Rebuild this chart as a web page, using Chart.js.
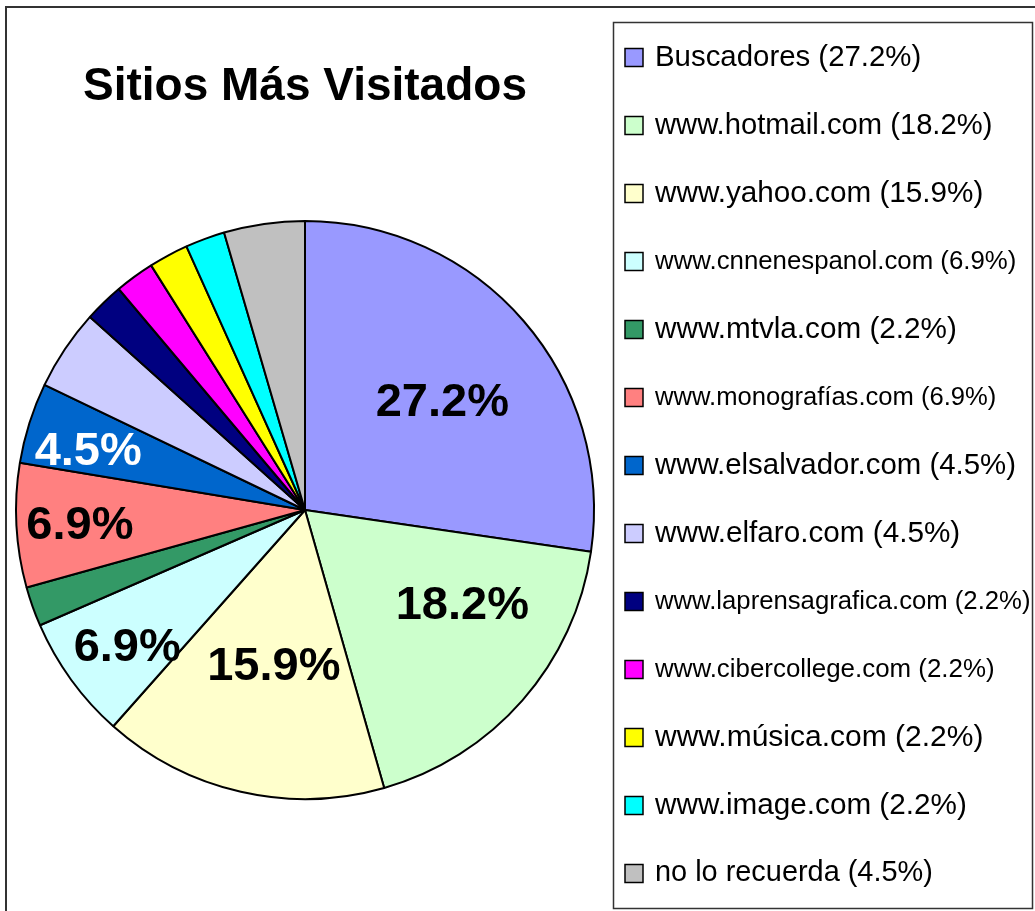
<!DOCTYPE html>
<html>
<head>
<meta charset="utf-8">
<script src="https://cdn.jsdelivr.net/npm/chart.js@4.4.1/dist/chart.umd.min.js"></script>
<style>
  html, body { margin: 0; padding: 0; background: #fff; }
</style>
</head>
<body>
<canvas id="grafico-sitios" width="1035" height="911"></canvas>
<script>
const categorias = [
    "Buscadores", "www.hotmail.com", "www.yahoo.com", "www.cnnenespanol.com",
    "www.mtvla.com", "www.monografías.com", "www.elsalvador.com", "www.elfaro.com",
    "www.laprensagrafica.com", "www.cibercollege.com", "www.música.com",
    "www.image.com", "no lo recuerda"
];
const porcentajes = [27.2, 18.2, 15.9, 6.9, 2.2, 6.9, 4.5, 4.5, 2.2, 2.2, 2.2, 2.2, 4.5];
const conEtiqueta = [true, true, true, true, false, true, true, false, false, false, false, false, false];

// estilos
const colores = [
    "#9999FF", "#CCFFCC", "#FFFFCC", "#CCFFFF", "#339966", "#FF8080", "#0066CC",
    "#CCCCFF", "#000080", "#FF00FF", "#FFFF00", "#00FFFF", "#C0C0C0"
];
const colorEtiqueta = ["#000", "#000", "#000", "#000", "#000", "#000", "#fff", "#000", "#000", "#000", "#000", "#000", "#000"];
// posicion de la etiqueta: fraccion del radio y desvio de angulo (grados)
const radioEtiqueta = [0.61, 0.63, 0.54, 0.77, 0.7, 0.78, 0.78, 0.7, 0.7, 0.7, 0.7, 0.7, 0.7];
const desvioEtiqueta = [2, -11, -1.3, -1, 0, 0, -1.6, 0, 0, 0, 0, 0, 0];
// ancho de cada texto de la leyenda en la imagen
const anchoLeyenda = [266, 338, 328, 361, 302, 342, 361, 305, 375, 340, 328, 312, 278];

const fuente = "'Liberation Sans', Arial, sans-serif";

const etiquetas = {
    id: "etiquetas",
    afterDatasetsDraw(chart) {
        const ctx = chart.ctx;
        const arcos = chart.getDatasetMeta(0).data;
        ctx.save();
        ctx.font = "bold 47px " + fuente;
        ctx.textAlign = "center";
        ctx.textBaseline = "middle";
        arcos.forEach(function(arco, i) {
            if (!conEtiqueta[i]) return;
            const a = (arco.startAngle + arco.endAngle) / 2 + desvioEtiqueta[i] * Math.PI / 180;
            const r = arco.outerRadius * radioEtiqueta[i];
            ctx.fillStyle = colorEtiqueta[i];
            ctx.fillText(porcentajes[i].toFixed(1) + "%", arco.x + Math.cos(a) * r, arco.y + Math.sin(a) * r + 4);
        });
        ctx.restore();
    }
};

const leyenda = {
    id: "leyenda",
    afterDraw(chart) {
        const ctx = chart.ctx;
        ctx.save();
        // marco exterior
        ctx.strokeStyle = "#333";
        ctx.lineWidth = 2;
        ctx.beginPath();
        ctx.moveTo(6, 911);
        ctx.lineTo(6, 7);
        ctx.lineTo(1035, 7);
        ctx.stroke();
        // caja de la leyenda
        ctx.lineWidth = 1.5;
        ctx.strokeRect(613.5, 22.5, 419, 886);

        ctx.textAlign = "left";
        ctx.textBaseline = "middle";
        categorias.forEach(function(cat, i) {
            const y = 57.5 + i * 68;
            ctx.fillStyle = colores[i];
            ctx.fillRect(625, y - 9, 18, 18);
            ctx.strokeStyle = "#000";
            ctx.lineWidth = 1.5;
            ctx.strokeRect(625, y - 9, 18, 18);
            const texto = cat + " (" + porcentajes[i].toFixed(1) + "%)";
            ctx.font = "24px " + fuente;
            const tam = 24 * anchoLeyenda[i] / ctx.measureText(texto).width;
            ctx.font = tam.toFixed(1) + "px " + fuente;
            ctx.fillStyle = "#000";
            ctx.fillText(texto, 655, y);
        });
        ctx.restore();
    }
};

new Chart(document.getElementById("grafico-sitios").getContext("2d"), {
    type: "pie",
    data: {
        labels: categorias,
        datasets: [{
            data: porcentajes,
            backgroundColor: colores,
            borderColor: "#000",
            borderWidth: 2
        }]
    },
    options: {
        responsive: false,
        devicePixelRatio: 1,
        animation: false,
        layout: { padding: { left: 15, right: 440, top: 10, bottom: 111 } },
        plugins: {
            legend: { display: false },
            tooltip: { enabled: false },
            title: {
                display: true,
                text: "Sitios Más Visitados",
                color: "#000",
                font: { family: fuente, size: 46, weight: "bold" },
                padding: { top: 49.4, bottom: 105.4 }
            }
        }
    },
    plugins: [etiquetas, leyenda]
});
</script>
</body>
</html>
